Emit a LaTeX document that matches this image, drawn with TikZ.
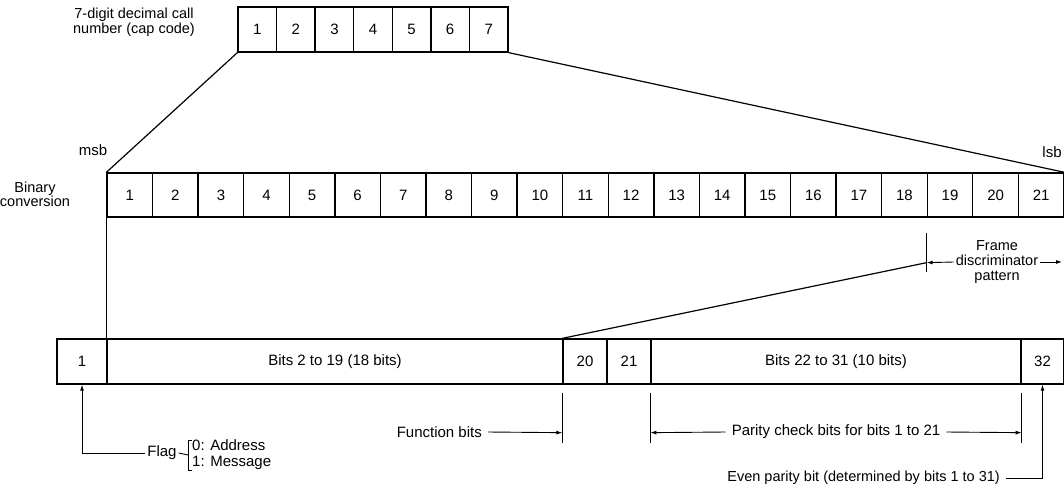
\documentclass[tikz,border=0pt]{standalone}
\usepackage{fontspec}
\setmainfont{Liberation Sans}
\usetikzlibrary{arrows.meta,calc}
\begin{document}
\begin{tikzpicture}[x=1pt,y=-1pt,
  font=\fontsize{15}{16}\selectfont,
  cell/.style={draw,line width=1.3pt,inner sep=0pt,minimum height=45pt},
  conn/.style={line width=1.2pt},
  dim/.style={line width=0.9pt},
  tip/.style={-{Latex[length=6pt,width=4pt]}},
  lbl/.style={inner sep=2pt,align=center}]
\useasboundingbox (0,0) rectangle (1064,495);
% top row: 7-digit cap code
\foreach \i in {1,...,7}
  \node[cell,minimum width=38.57pt] (t\i) at ({238+38.57*(\i-0.5)},29.5) {\i};
\node[lbl,font=\fontsize{14.5}{15}\selectfont] (cap) at (134,22) {7-digit decimal call\\number (cap code)};
% binary row
\foreach \i in {1,...,21}
  \node[cell,minimum width=45.57pt,minimum height=44pt] (b\i) at ({107+45.57*(\i-0.5)},195) {\i};
\node[lbl] (msb) at (93,150) {msb};
\node[lbl] (lsb) at (1052,152) {lsb};
\node[lbl,font=\fontsize{14.5}{14}\selectfont] (bin) at (35,194) {Binary\\conversion};
\draw[conn] (b1.north west) -- (t1.south west);
\draw[conn] (t7.south east) -- (b21.north east);
% bottom row: codeword
\node[cell,minimum width=50pt]  (f1)  at (82,361.5) {1};
\node[cell,minimum width=456pt] (f2)  at (335,361.5) {Bits 2 to 19 (18 bits)};
\node[cell,minimum width=44pt]  (f20) at (585,361.5) {20};
\node[cell,minimum width=44pt]  (f21) at (629,361.5) {21};
\node[cell,minimum width=370pt] (f22) at (836,361.5) {Bits 22 to 31 (10 bits)};
\node[cell,minimum width=43pt]  (f32) at (1042.5,361.5) {32};
\draw[conn] (b1.south west) -- (f2.north west);
% frame discriminator pattern
\coordinate (ftop) at ($(b19.south west)+(0,15)$);
\coordinate (fbot) at ($(b19.south west)+(0,54)$);
\coordinate (fmid) at ($(b19.south west)+(0,45)$);
\coordinate (fend) at (1062,262);
\draw[dim] (ftop) -- (fbot);
\draw[conn] (f20.north west) -- (fmid);
\node[lbl,font=\fontsize{14.5}{15}\selectfont] (fd) at (997,262) {Frame\\discriminator\\pattern};
\draw[dim,tip] (fd.west) -- (fmid);
\draw[dim,tip] (fd.east) -- (fend);
% flag
\node[lbl] (flag) at (162,453) {Flag};
\draw[dim,tip] (flag.west) -| (f1.south);
\coordinate (brm) at (188,455);
\draw[dim] (flag.east) -- (brm);
\draw[dim] (192,440) -- (188,440) -- (188,470) -- (192,470);
\node[lbl,align=left,anchor=west,font=\fontsize{15}{16}\selectfont] (opts) at (190,455) {0: Address\\1: Message};
% function bits
\coordinate (fnt1) at ($(f20.south west)+(0,8)$);
\coordinate (fnt2) at ($(f20.south west)+(0,58)$);
\coordinate (fnm) at ($(f20.south west)+(0,48)$);
\draw[dim] (fnt1) -- (fnt2);
\node[lbl,anchor=east] (fn) at (484,432) {Function bits};
\draw[dim,tip] (fn.east) ++(4,0) -- (fnm);
% parity check bits
\coordinate (pa1) at ($(f22.south west)+(0,8)$);
\coordinate (pa2) at ($(f22.south west)+(0,58)$);
\coordinate (pam) at ($(f22.south west)+(0,48)$);
\coordinate (pb1) at ($(f22.south east)+(0,8)$);
\coordinate (pb2) at ($(f22.south east)+(0,58)$);
\coordinate (pbm) at ($(f22.south east)+(0,48)$);
\draw[dim] (pa1) -- (pa2);
\draw[dim] (pb1) -- (pb2);
\node[lbl] (pc) at (836,432) {Parity check bits for bits 1 to 21};
\draw[dim,tip] (pc.west) ++(-4,0) -- (pam);
\draw[dim,tip] (pc.east) ++(4,0) -- (pbm);
% even parity bit
\node[lbl,anchor=east,font=\fontsize{14.5}{16}\selectfont] (ep) at (1002,478) {Even parity bit (determined by bits 1 to 31)};
\draw[dim,tip] (ep.east) ++(4,0) -| (f32.south);
\end{tikzpicture}
\end{document}
